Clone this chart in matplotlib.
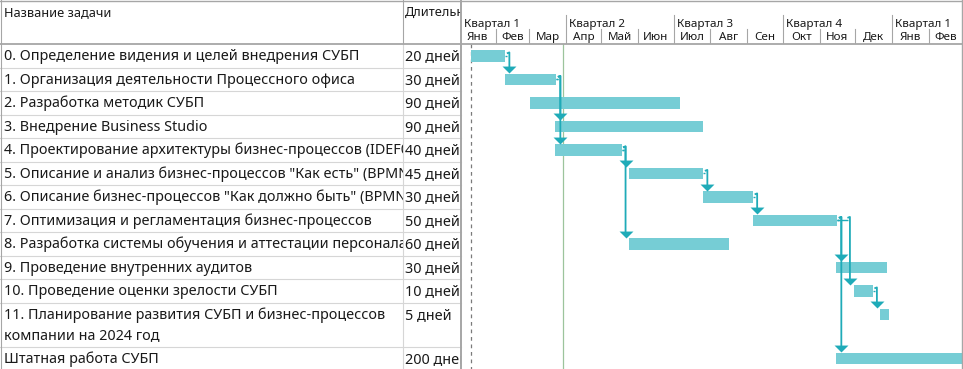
import matplotlib
matplotlib.use("Agg")
import matplotlib.pyplot as plt
import matplotlib.dates as mdates
import pandas as pd

plt.rcParams['font.family'] = ['Noto Sans', 'DejaVu Sans']

# ---------------- data ----------------
task_names = [
    "0. Определение видения и целей внедрения СУБП",
    "1. Организация деятельности Процессного офиса",
    "2. Разработка методик СУБП",
    "3. Внедрение Business Studio",
    "4. Проектирование архитектуры бизнес-процессов (IDEF0)",
    "5. Описание и анализ бизнес-процессов \"Как есть\" (BPMN)",
    "6. Описание бизнес-процессов \"Как должно быть\" (BPMN)",
    "7. Оптимизация и регламентация бизнес-процессов",
    "8. Разработка системы обучения и аттестации персонала",
    "9. Проведение внутренних аудитов",
    "10. Проведение оценки зрелости СУБП",
    "11. Планирование развития СУБП и бизнес-процессов\nкомпании на 2024 год",
    "Штатная работа СУБП",
]
durations = ["20 дней", "30 дней", "90 дней", "90 дней", "40 дней", "45 дней",
             "30 дней", "50 дней", "60 дней", "30 дней", "10 дней", "5 дней",
             "200 дней"]
starts = ["2023-01-11", "2023-02-09", "2023-03-02", "2023-03-23", "2023-03-23",
          "2023-05-24", "2023-07-26", "2023-09-06", "2023-05-24", "2023-11-15",
          "2023-11-30", "2023-12-22", "2023-11-15"]
ends = ["2023-02-09", "2023-03-24", "2023-07-06", "2023-07-26", "2023-05-18",
        "2023-07-26", "2023-09-06", "2023-11-16", "2023-08-17", "2023-12-28",
        "2023-12-16", "2023-12-30", "2024-08-21"]
links = [(0, 1), (1, 3), (1, 4), (4, 5), (4, 8), (5, 6), (6, 7),
         (7, 9), (7, 10), (7, 12), (10, 11)]
month_names = ["Янв", "Фев", "Мар", "Апр", "Май", "Июн",
               "Июл", "Авг", "Сен", "Окт", "Ноя", "Дек"]
quarter_word = "Квартал"
col_name_title = "Название задачи"
col_dur_title = "Длительность"
project_start = "2023-01-11"
status_date = "2023-03-30"
view_start, view_end = "2023-01-03", "2024-03-01"

# ---------------- style / layout ----------------
W, H = 963, 369
HEADER_H = 44.3
ROW_H = 23.5
LINE_H = 20.5
BAR_H = 11.7
BAR_OFF = 11.6
NAME_W = 403
SPLIT_X = 460.5
GANTT_X = 461.5
BAR_COLOR = "#76cdd5"
LINK_COLOR = "#1fabb8"
GRID_LIGHT = "#d6d6d6"
GRID_DARK = "#a6a6a6"
TXT = "#1a1a1a"
FS = 10.35
FS_HEAD = 9.2
FS_TL = 8.4

fig = plt.figure(figsize=(W / 100, H / 100), dpi=100)
fig.patch.set_facecolor("white")


def px_axes(x, y, w, h, z=1):
    ax = fig.add_axes([x / W, 1 - (y + h) / H, w / W, h / H], zorder=z)
    ax.set_axis_off()
    ax.patch.set_visible(False)
    return ax


# row geometry (pixels from top)
nlines = [n.count("\n") + 1 for n in task_names]
row_tops = []
acc = HEADER_H
for n in nlines:
    row_tops.append(acc)
    acc += ROW_H + (n - 1) * LINE_H

# ---------------- left table ----------------
ax_name = px_axes(0, 0, NAME_W, H, 2)
ax_name.set_xlim(0, NAME_W)
ax_name.set_ylim(H, 0)
ax_dur = px_axes(NAME_W, 0, SPLIT_X - NAME_W, H, 2)
ax_dur.set_xlim(0, SPLIT_X - NAME_W)
ax_dur.set_ylim(H, 0)

ax_name.text(4, 12.5, col_name_title, fontsize=FS_HEAD, color=TXT,
             va="center", ha="left", clip_on=True)
ax_dur.text(2, 12.5, col_dur_title, fontsize=FS_HEAD, color=TXT,
            va="center", ha="left", clip_on=True)

for i, (nm, du) in enumerate(zip(task_names, durations)):
    y1 = row_tops[i] + BAR_OFF + 0.8
    yc = y1 + (nlines[i] - 1) * LINE_H / 2
    ax_name.text(4, yc, nm, fontsize=FS, color=TXT, va="center", ha="left",
                 linespacing=1.45, clip_on=True)
    ax_dur.text(2, y1, du, fontsize=FS, color=TXT,
                va="center", ha="left", clip_on=True)

# ---------------- gantt header ----------------
vs, ve = mdates.datestr2num(view_start), mdates.datestr2num(view_end)
ax_head = px_axes(GANTT_X, 0, W - GANTT_X, HEADER_H, 2)
ax_head.set_xlim(vs, ve)
ax_head.set_ylim(HEADER_H, 0)
months = pd.date_range("2023-01-01", "2024-03-01", freq="MS")
for k in range(len(months) - 1):
    m0 = mdates.date2num(months[k])
    m1 = mdates.date2num(months[k + 1])
    if months[k].month in (1, 4, 7, 10):
        ax_head.plot([m0, m0], [15, HEADER_H], color=GRID_DARK, lw=0.8,
                     clip_on=True)
        q = (months[k].month - 1) // 3 + 1
        ax_head.annotate(f"{quarter_word} {q}", (max(m0, vs), 24.5),
                         xytext=(3.0, 0), textcoords="offset pixels",
                         fontsize=FS_TL, color=TXT, va="center", ha="left",
                         annotation_clip=False, clip_on=True)
    else:
        ax_head.plot([m0, m0], [29, HEADER_H], color=GRID_DARK, lw=0.8,
                     clip_on=True)
    ax_head.text((m0 + m1) / 2, 37.5, month_names[months[k].month - 1],
                 fontsize=FS_TL, color=TXT, va="center", ha="center",
                 clip_on=True)

# ---------------- gantt body ----------------
ax = px_axes(GANTT_X, HEADER_H, W - GANTT_X, H - HEADER_H, 1)
ax.set_xlim(vs, ve)
ax.set_ylim(H, HEADER_H)
px_day = (W - GANTT_X) / (ve - vs)

s_num = mdates.datestr2num(starts)
e_num = mdates.datestr2num(ends)
centers = [t + BAR_OFF for t in row_tops]
ax.barh(centers, e_num - s_num, left=s_num, height=BAR_H, color=BAR_COLOR,
        edgecolor="none", zorder=2)

ps = mdates.datestr2num(project_start)
ax.plot([ps, ps], [HEADER_H, H], color="#7a7a7a", lw=0.9,
        linestyle=(0, (3, 3)), zorder=1)
sd = mdates.datestr2num(status_date)
ax.plot([sd, sd], [HEADER_H, H], color="#9cc49c", lw=0.9, zorder=1)

gap = 4 / px_day
for p, s in links:
    xv = max(e_num[p] + gap, s_num[s] - gap)
    yc = centers[p]
    ytip = centers[s] - BAR_H / 2 - 0.5
    ax.plot([e_num[p], xv - 2 / px_day], [yc, yc], color=LINK_COLOR,
            lw=1.0, zorder=3, solid_capstyle="butt")
    ax.plot([xv - 2.5 / px_day, xv, xv], [yc - 2.5, yc - 3.5, ytip - 4],
            color=LINK_COLOR, lw=1.3, zorder=3, solid_capstyle="butt")
    ax.plot([xv], [ytip], marker=[(-1, 1), (1, 1), (0, 0)], markersize=10,
            color=LINK_COLOR, markeredgewidth=0, zorder=4, linestyle="none")

# ---------------- grid lines (overlay, pixel coords) ----------------
ov = px_axes(0, 0, W, H, 5)
ov.set_xlim(0, W)
ov.set_ylim(H, 0)
for t in row_tops[1:]:
    ov.plot([0, SPLIT_X], [t, t], color=GRID_LIGHT, lw=0.8)
ov.plot([NAME_W, NAME_W], [0, HEADER_H], color=GRID_DARK, lw=0.8)
ov.plot([NAME_W, NAME_W], [HEADER_H, H], color=GRID_LIGHT, lw=0.8)
ov.plot([0, W], [0.5, 0.5], color=GRID_DARK, lw=1.0)
ov.plot([0, W], [HEADER_H, HEADER_H], color=GRID_DARK, lw=1.3)
ov.plot([SPLIT_X, SPLIT_X], [0, H], color=GRID_DARK, lw=1.4)
ov.plot([W - 1, W - 1], [0, H], color=GRID_DARK, lw=1.0)
ov.plot([0.5, 0.5], [0, H], color=GRID_DARK, lw=0.8)

fig.savefig("out.png", dpi=100, facecolor="white")
